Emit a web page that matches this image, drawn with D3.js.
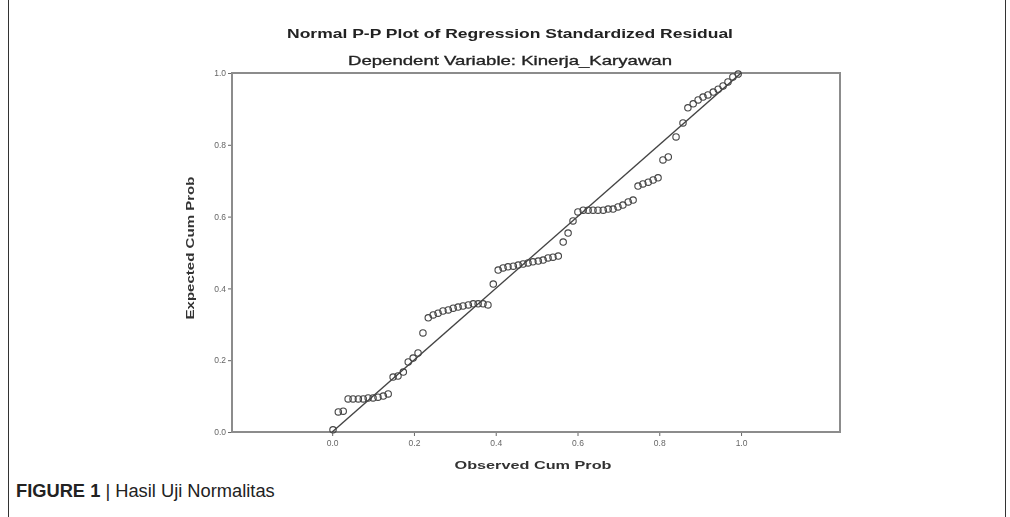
<!DOCTYPE html>
<html>
<head>
<meta charset="utf-8">
<script src="https://cdn.jsdelivr.net/npm/d3@7/dist/d3.min.js"></script>
<style>
	html, body { margin: 0; padding: 0; background: #fff; }
	svg { display: block; }
	.tick text { font-family: "Liberation Sans", Arial, sans-serif; fill: #666; }
	.tick line { stroke: #666; }
</style>
</head>
<body>
<div id="chart"></div>
<script>
// observed / expected cumulative probability
var observed = [0.002, 0.015, 0.027, 0.039, 0.051, 0.064, 0.076, 0.088, 0.100, 0.112,
	0.125, 0.137, 0.149, 0.161, 0.174, 0.186, 0.198, 0.210, 0.222, 0.235,
	0.247, 0.259, 0.271, 0.284, 0.296, 0.308, 0.320, 0.333, 0.345, 0.357,
	0.369, 0.381, 0.394, 0.406, 0.418, 0.430, 0.443, 0.455, 0.467, 0.479,
	0.491, 0.504, 0.516, 0.528, 0.540, 0.553, 0.565, 0.577, 0.589, 0.601,
	0.614, 0.626, 0.638, 0.650, 0.663, 0.675, 0.687, 0.699, 0.711, 0.724,
	0.736, 0.748, 0.760, 0.773, 0.785, 0.797, 0.809, 0.822, 0.841, 0.858,
	0.870, 0.883, 0.895, 0.907, 0.919, 0.932, 0.944, 0.956, 0.968, 0.980, 0.993];
var expected = [0.006, 0.056, 0.058, 0.092, 0.092, 0.092, 0.092, 0.095, 0.095, 0.097,
	0.100, 0.106, 0.153, 0.156, 0.167, 0.195, 0.206, 0.220, 0.276, 0.318,
	0.326, 0.331, 0.337, 0.340, 0.345, 0.348, 0.351, 0.354, 0.357, 0.357,
	0.357, 0.354, 0.412, 0.451, 0.457, 0.460, 0.462, 0.465, 0.468, 0.471,
	0.474, 0.476, 0.479, 0.485, 0.487, 0.490, 0.529, 0.554, 0.588, 0.613,
	0.618, 0.618, 0.618, 0.618, 0.618, 0.621, 0.621, 0.627, 0.632, 0.641,
	0.646, 0.685, 0.691, 0.696, 0.702, 0.708, 0.758, 0.766, 0.822, 0.861,
	0.903, 0.914, 0.925, 0.933, 0.939, 0.947, 0.955, 0.964, 0.975, 0.989, 0.997];
var refLine = [[0, 0], [1, 1]];
var tickVals = [0, 0.2, 0.4, 0.6, 0.8, 1.0];

var titleText = "Normal P-P Plot of Regression Standardized Residual";
var subtitleText = "Dependent Variable: Kinerja_Karyawan";
var xTitle = "Observed Cum Prob";
var yTitle = "Expected Cum Prob";

var width = 1010, height = 517;
var font = '"Liberation Sans", Arial, Helvetica, sans-serif';

var svg = d3.select("#chart").append("svg")
	.attr("width", width)
	.attr("height", height);

svg.append("defs").append("filter")
	.attr("id", "soft")
	.append("feGaussianBlur")
	.attr("stdDeviation", 0.45);

// outer figure frame
svg.append("line").attr("x1", 8.5).attr("x2", 8.5).attr("y1", 0).attr("y2", height)
	.attr("stroke", "#333").attr("stroke-width", 1);
svg.append("line").attr("x1", 1005.5).attr("x2", 1005.5).attr("y1", 0).attr("y2", height)
	.attr("stroke", "#333").attr("stroke-width", 1);

var g = svg.append("g").attr("filter", "url(#soft)");

var x = d3.scaleLinear().domain([-0.245, 1.242]).range([232, 840]);
var y = d3.scaleLinear().domain([0, 1]).range([432, 73]);

function fitText(sel, w) {
	sel.attr("textLength", w).attr("lengthAdjust", "spacingAndGlyphs");
	return sel;
}

// titles
fitText(g.append("text")
	.attr("x", 510).attr("y", 37.5)
	.attr("text-anchor", "middle")
	.attr("font-family", font).attr("font-weight", "bold").attr("font-size", 13)
	.attr("fill", "#222")
	.text(titleText), 446);
fitText(g.append("text")
	.attr("x", 510).attr("y", 64.5)
	.attr("text-anchor", "middle")
	.attr("font-family", font).attr("font-size", 13)
	.attr("fill", "#222")
	.attr("stroke", "#222").attr("stroke-width", 0.3)
	.text(subtitleText), 324);

// axes
var yAxis = d3.axisLeft(y).tickValues(tickVals).tickFormat(d3.format(".1f")).tickSize(4).tickPadding(2);
var xAxis = d3.axisBottom(x).tickValues(tickVals).tickFormat(d3.format(".1f")).tickSize(4).tickPadding(4);

var ya = g.append("g").attr("transform", "translate(" + x.range()[0] + ",0)").call(yAxis);
var xa = g.append("g").attr("transform", "translate(0," + y.range()[0] + ")").call(xAxis);
[ya, xa].forEach(function(a) {
	a.select(".domain").remove();
	a.selectAll("text").attr("font-size", 8.5);
});

// plot frame
g.append("rect")
	.attr("x", x.range()[0]).attr("y", y.range()[1])
	.attr("width", x.range()[1] - x.range()[0])
	.attr("height", y.range()[0] - y.range()[1])
	.attr("fill", "none")
	.attr("stroke", "#8c8c8c")
	.attr("stroke-width", 2);

// diagonal reference
g.append("path")
	.datum(refLine)
	.attr("d", d3.line().x(function(d) { return x(d[0]); }).y(function(d) { return y(d[1]); }))
	.attr("stroke", "#444")
	.attr("stroke-width", 1.4)
	.attr("fill", "none");

// points
g.selectAll("circle.pt")
	.data(observed.map(function(o, i) { return [o, expected[i]]; }))
	.enter()
	.append("circle")
	.attr("class", "pt")
	.attr("cx", function(d) { return x(d[0]); })
	.attr("cy", function(d) { return y(d[1]); })
	.attr("r", 3.2)
	.attr("fill", "none")
	.attr("stroke", "#444")
	.attr("stroke-width", 1.1);

// axis titles
fitText(g.append("text")
	.attr("x", 533).attr("y", 469)
	.attr("text-anchor", "middle")
	.attr("font-family", font).attr("font-weight", "bold").attr("font-size", 11.5)
	.attr("fill", "#333")
	.text(xTitle), 157);
fitText(g.append("text")
	.attr("transform", "translate(194,248) rotate(-90)")
	.attr("text-anchor", "middle")
	.attr("font-family", font).attr("font-weight", "bold").attr("font-size", 11.5)
	.attr("fill", "#333")
	.text(yTitle), 143);

// caption
var cap = svg.append("text")
	.attr("x", 16).attr("y", 497)
	.attr("font-family", font).attr("font-size", 18.3)
	.attr("fill", "#222");
cap.append("tspan").attr("font-weight", "bold").text("FIGURE 1");
cap.append("tspan").text(" | Hasil Uji Normalitas");
</script>
</body>
</html>
